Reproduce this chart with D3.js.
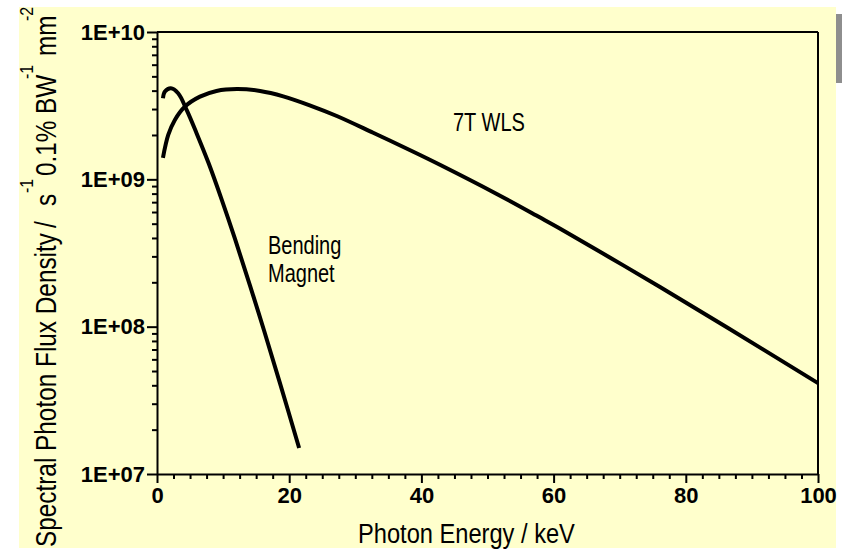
<!DOCTYPE html>
<html>
<head>
<meta charset="utf-8">
<script src="https://cdn.jsdelivr.net/npm/d3@7"></script>
<style>
  body { margin: 0; background: #fff; }
  svg text { font-family: "Liberation Sans", Arial, sans-serif; fill: #000; }
</style>
</head>
<body>
<div id="chart"></div>
<script>
// photon energy (keV) and flux
const wlsEnergy = [0.9, 1.7, 2.7, 4.2, 6.5, 9.0, 12.1, 15.6, 19.1, 23.1, 27.2, 32.7, 38.7, 42.8, 51.4, 57.9, 61.2, 68.5, 76.1, 86.2, 100];
const wlsFlux = [1.40e9, 2.0e9, 2.53e9, 3.11e9, 3.64e9, 3.98e9, 4.10e9, 3.98e9, 3.66e9, 3.18e9, 2.69e9, 2.07e9, 1.545e9, 1.256e9, 7.96e8, 5.52e8, 4.57e8, 2.95e8, 1.86e8, 9.91e7, 4.14e7];

const bmEnergy = [0.9, 1.2, 2.1, 3.2, 4.5, 6.0, 7.8, 9.8, 11.8, 15.3, 18.6, 21.5];
const bmFlux = [3.55e9, 3.94e9, 4.15e9, 3.84e9, 2.95e9, 2.05e9, 1.29e9, 7.26e8, 3.94e8, 1.27e8, 4.14e7, 1.50e7];

const xTicks = [0, 20, 40, 60, 80, 100];
const yTicks = [1e7, 1e8, 1e9, 1e10];
const yTickLabels = ["1E+07", "1E+08", "1E+09", "1E+10"];

const W = 850, H = 549;
const margin = { top: 32, right: 32, bottom: 75, left: 157 };
const width = 818 - margin.left,
  height = 474 - margin.top;

const svg = d3.select("#chart").append("svg")
  .attr("width", W)
  .attr("height", H);

// pale yellow panel
svg.append("rect")
  .attr("x", 19).attr("y", 7)
  .attr("width", 817).attr("height", 541)
  .attr("fill", "#ffffcc");

// little grey scroll thumb at right edge
svg.append("rect")
  .attr("x", 836).attr("y", 14)
  .attr("width", 6).attr("height", 69)
  .attr("fill", "#8e8e8e");

const g = svg.append("g")
  .attr("transform", "translate(" + margin.left + "," + margin.top + ")");

const x = d3.scaleLinear().domain([0, 100]).range([0, width]);
const y = d3.scaleLog().domain([1e7, 1e10]).range([height, 0]);

// minor ticks
const xMinor = d3.range(0, 100.1, 2.5).filter(v => v % 20 !== 0);
g.append("g")
  .attr("transform", "translate(0," + height + ")")
  .call(d3.axisBottom(x).tickValues(xMinor).tickSize(5).tickFormat("").tickSizeOuter(0))
  .call(a => a.select(".domain").remove());

let yMinor = [];
[1e7, 1e8, 1e9].forEach(d => { for (let k = 2; k <= 9; k++) yMinor.push(d * k); });
g.append("g")
  .call(d3.axisLeft(y).tickValues(yMinor).tickSize(5).tickFormat("").tickSizeOuter(0))
  .call(a => a.select(".domain").remove());

// major axes
g.append("g")
  .attr("transform", "translate(0," + height + ")")
  .call(d3.axisBottom(x).tickValues(xTicks).tickSize(9).tickPadding(4).tickSizeOuter(0));

g.append("g")
  .call(d3.axisLeft(y).tickValues(yTicks).tickSize(10).tickPadding(2).tickSizeOuter(0)
    .tickFormat((d, i) => yTickLabels[i]));

g.selectAll(".tick line").attr("stroke", "#000").attr("stroke-width", 2);
g.selectAll(".domain").attr("stroke", "#000").attr("stroke-width", 2);
g.selectAll(".tick text")
  .style("font-family", "'Liberation Sans', Arial, sans-serif")
  .style("font-size", "22px")
  .style("font-weight", "bold")
  .attr("fill", "#000");

// frame: top and right
g.append("line").attr("x1", 0).attr("x2", width).attr("y1", 0).attr("y2", 0)
  .attr("stroke", "#000").attr("stroke-width", 2);
g.append("line").attr("x1", width).attr("x2", width).attr("y1", 0).attr("y2", height)
  .attr("stroke", "#000").attr("stroke-width", 2);

// curves
const line = d3.line()
  .x(d => x(d[0]))
  .y(d => y(d[1]))
  .curve(d3.curveCatmullRom);

g.append("path")
  .datum(d3.zip(wlsEnergy, wlsFlux))
  .attr("fill", "none")
  .attr("stroke", "#000")
  .attr("stroke-width", 4)
  .attr("d", line);

g.append("path")
  .datum(d3.zip(bmEnergy, bmFlux))
  .attr("fill", "none")
  .attr("stroke", "#000")
  .attr("stroke-width", 4)
  .attr("d", line);

// annotations (original font is a narrow one, so squeeze)
function label(txt, cx, cy) {
  return svg.append("text")
    .attr("font-size", 25)
    .attr("transform", "translate(" + cx + "," + cy + ") scale(0.8,1)")
    .text(txt);
}
label("7T WLS", 453, 131);
label("Bending", 268, 254);
label("Magnet", 268, 282);

// x title
const xt = svg.append("text")
  .attr("font-size", 28)
  .text("Photon Energy / keV");
const kx = 217 / xt.node().getComputedTextLength();
xt.attr("transform", "translate(358,543) scale(" + kx + ",1)");

// y title, piece by piece (rotated), superscripts raised
const ky = 0.84;
function yPiece(txt, ys, sup) {
  svg.append("text")
    .attr("font-size", sup ? 19 : 29)
    .attr("transform", "translate(" + (sup ? 33 : 56) + "," + ys + ") rotate(-90) scale(" + ky + ",1)")
    .text(txt);
}
yPiece("Spectral Photon Flux Density", 547);
yPiece("/", 228);
yPiece("s", 206);
yPiece("-1", 193, true);
yPiece("0.1%", 176);
yPiece("BW", 114);
yPiece("-1", 79, true);
yPiece("mm", 56);
yPiece("-2", 21, true);
</script>
</body>
</html>
